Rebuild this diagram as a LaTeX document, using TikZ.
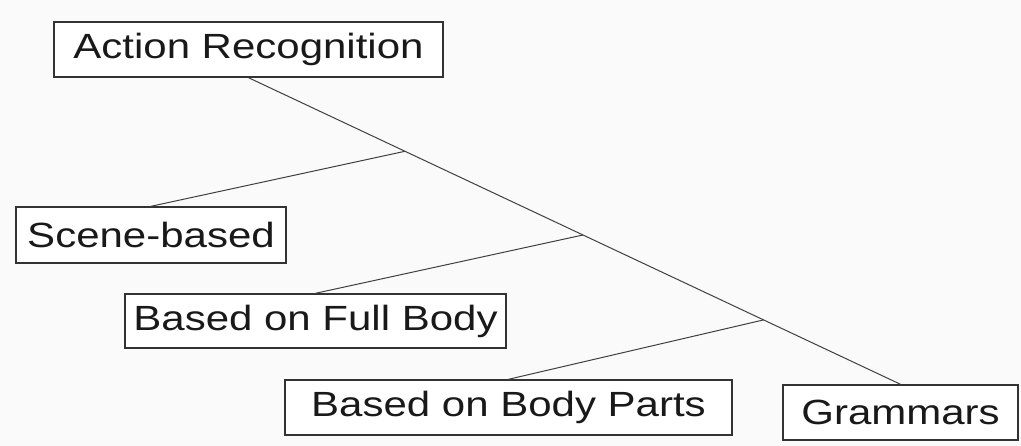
\documentclass[tikz,border=0pt]{standalone}
\usepackage{fontspec}
\usepackage{xcolor}
\usetikzlibrary{calc}
\newfontfamily\boxfont[FakeStretch=1.2]{Liberation Sans}

\tikzset{
  catbox/.style={draw=black!80, line width=1.4pt, inner sep=0pt, fill=white,
    font=\boxfont\fontsize{35}{42}\selectfont, text=black!90},
  branch/.style={draw=black!75, line width=1pt}
}

\begin{document}
\begin{tikzpicture}[x=1pt,y=-1pt]
\fill [black!2] (0,0) rectangle (1021,446);
\useasboundingbox (0,0) rectangle (1021,446);
% categories
\node [catbox, minimum width=389pt, minimum height=55pt] (ar) at (248.5,49.5) {Action Recognition};
\node [catbox, minimum width=270pt, minimum height=56pt] (sb) at (151,235) {Scene-based};
\node [catbox, minimum width=381pt, minimum height=54pt] (fb) at (315.5,321) {Based on Full Body};
\node [catbox, minimum width=447pt, minimum height=55pt] (bp) at (508.5,407.5) {Based on Body Parts};
\node [catbox, minimum width=235pt, minimum height=55pt] (gr) at (900.5,412.5) {Grammars};
% split points on the main line
\coordinate (j1) at ($(ar.south)!0.24!(gr.north)$);
\coordinate (j2) at ($(ar.south)!0.513!(gr.north)$);
\coordinate (j3) at ($(ar.south)!0.79!(gr.north)$);
\draw [branch] (ar.south) -- (gr.north);
\draw [branch] (j1) -- (sb.north);
\draw [branch] (j2) -- (fb.north);
\draw [branch] (j3) -- (bp.north);
\end{tikzpicture}
\end{document}
